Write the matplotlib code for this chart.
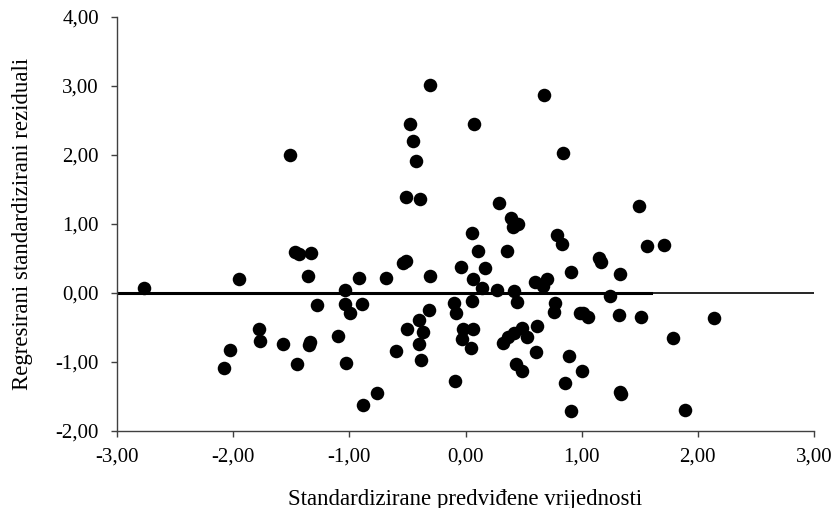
import matplotlib
matplotlib.use('Agg')
import matplotlib.pyplot as plt
import numpy as np
from matplotlib.ticker import MultipleLocator, FuncFormatter

plt.rcParams['font.family'] = ['Liberation Serif', 'DejaVu Serif']

# standardizirane predviđene vrijednosti (x) i reziduali (y), očitano s grafa
pred = [-2.77, -1.51, -1.47, -1.43, -1.33, -1.95, -1.36, -1.04, -1.28, -1.04,
        -0.99, -1.78, -1.77, -2.03, -2.08, -1.57, -1.34, -1.35, -1.45, -1.095,
        -1.03, -0.305, 0.676, -0.478, 0.073, -0.452, -0.426, 0.836, -0.512, -0.389,
        0.288, 0.389, 0.454, 0.406, 0.053, 0.79, 0.833, 0.108, 0.357, -0.54,
        -0.515, -0.917, -0.682, -0.303, -0.036, 0.168, 0.065, 0.142, 0.268, 0.417,
        0.598, 0.699, 0.67, 0.91, -0.888, -0.31, -0.40, -0.503, -0.368, -0.40,
        -0.38, -0.60, -0.764, -0.885, -0.093, -0.10, -0.082, 0.053, -0.02, 0.068,
        -0.03, 0.045, 0.44, 0.325, 0.363, 0.417, 0.484, 0.527, 0.615, 0.604,
        0.437, 0.484, 0.773, 0.759, 0.89, 0.854, 0.905, 0.985, 1.0, 1.493,
        1.562, 1.71, 1.151, 1.163, 1.33, 1.244, 1.014, 1.054, 1.324, 1.51,
        2.139, 1.788, 1.33, 1.34, 1.89]
resid = [0.077, 2.0, 0.59, 0.565, 0.575, 0.20, 0.246, 0.04, -0.17, -0.155,
         -0.285, -0.52, -0.70, -0.83, -1.09, -0.74, -0.71, -0.76, -1.03, -0.63,
         -1.01, 3.02, 2.865, 2.445, 2.445, 2.21, 1.92, 2.03, 1.39, 1.358,
         1.31, 1.09, 1.00, 0.96, 0.87, 0.836, 0.715, 0.613, 0.613, 0.435,
         0.468, 0.213, 0.213, 0.246, 0.381, 0.362, 0.203, 0.072, 0.048, 0.025,
         0.16, 0.207, 0.10, 0.30, -0.16, -0.246, -0.387, -0.517, -0.56, -0.735,
         -0.97, -0.84, -1.445, -1.63, -1.27, -0.14, -0.294, -0.11, -0.517, -0.517,
         -0.67, -0.80, -0.13, -0.72, -0.633, -0.575, -0.503, -0.633, -0.478, -0.855,
         -1.03, -1.135, -0.14, -0.28, -0.917, -1.30, -1.71, -0.285, -1.135, 1.26,
         0.686, 0.70, 0.51, 0.445, 0.27, -0.043, -0.285, -0.348, -0.323, -0.343,
         -0.362, -0.657, -1.43, -1.46, -1.69]

fig = plt.figure(figsize=(8.32, 5.08), dpi=100)
ax = fig.add_axes([117/832, 1 - 431/508, 697/832, 414/508])

ax.scatter(pred, resid, s=95, color='black', zorder=3, linewidths=0)
# linija trenda (lijevo deblja, desno tanja kao u izvorniku)
ax.plot([-3, 3], [0, 0], color='black', lw=1.2, zorder=2)
ax.plot([-3, 1.6], [0, 0], color='black', lw=2.2, zorder=2)

ax.set_xlim(-3, 3)
ax.set_ylim(-2, 4)
ax.xaxis.set_major_locator(MultipleLocator(1))
ax.yaxis.set_major_locator(MultipleLocator(1))
fmt = FuncFormatter(lambda v, p: ('%.2f' % v).replace('.', ','))
ax.xaxis.set_major_formatter(fmt)
ax.yaxis.set_major_formatter(fmt)

for s in ['top', 'right']:
    ax.spines[s].set_visible(False)
for s in ['left', 'bottom']:
    ax.spines[s].set_color('#404040')
    ax.spines[s].set_linewidth(1.0)
ax.tick_params(direction='out', length=4.5, width=1.0, color='#404040',
               labelsize=15)
ax.tick_params(axis='x', pad=7.5)
ax.tick_params(axis='y', pad=8.5)

ax.set_xlabel('Standardizirane predviđene vrijednosti', fontsize=16.5, labelpad=16)
ax.set_ylabel('Regresirani standardizirani reziduali', fontsize=16.5, labelpad=16)

plt.savefig('out.png', dpi=100)
